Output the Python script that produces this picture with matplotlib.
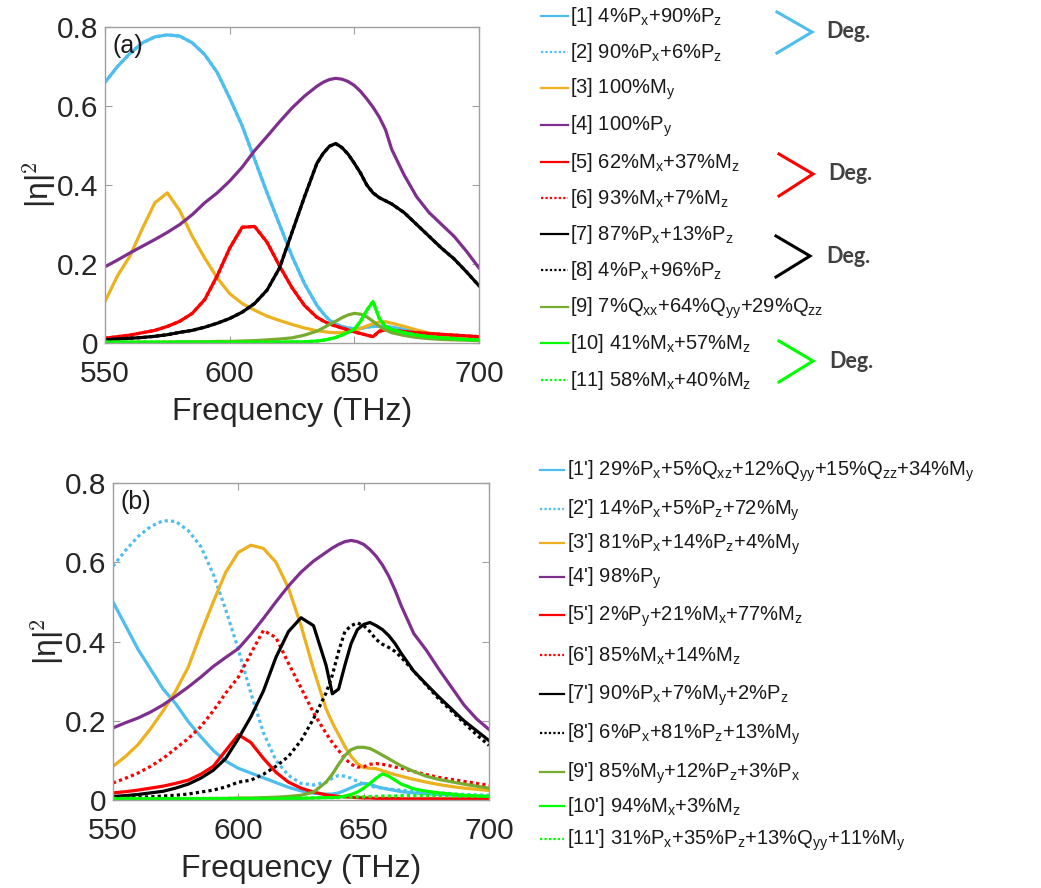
import re
import matplotlib
matplotlib.use('Agg')
import matplotlib.pyplot as plt

plt.rcParams['font.family'] = ['Liberation Sans', 'DejaVu Sans']
plt.rcParams['mathtext.default'] = 'regular'

# frequency grid (THz), denser around the sharp features
freq = [550, 555, 560, 565, 570, 575, 580, 585, 590, 595, 600, 605, 610, 615, 620, 625,
        630, 635, 637.5, 640, 642.5, 645, 647.5, 650, 652.5, 655, 657.5, 660, 662.5, 665,
        670, 675, 680, 685, 690, 695, 700]

# ---- panel (a) ----
a1 = [0.66, 0.70, 0.733, 0.76, 0.775, 0.78, 0.777, 0.76, 0.73, 0.685, 0.62, 0.55, 0.465, 0.38, 0.30, 0.22,
      0.15, 0.095, 0.075, 0.058, 0.048, 0.042, 0.038, 0.036, 0.037, 0.04, 0.042, 0.043, 0.042, 0.04,
      0.034, 0.028, 0.023, 0.019, 0.016, 0.013, 0.011]
a3 = [0.105, 0.17, 0.22, 0.29, 0.355, 0.38, 0.335, 0.27, 0.215, 0.165, 0.125, 0.1, 0.083, 0.068, 0.057, 0.047,
      0.038, 0.031, 0.029, 0.027, 0.026, 0.026, 0.028, 0.032, 0.037, 0.043, 0.049, 0.053, 0.054, 0.05,
      0.042, 0.033, 0.025, 0.02, 0.016, 0.013, 0.011]
a4 = [0.193, 0.21, 0.228, 0.245, 0.262, 0.28, 0.30, 0.325, 0.355, 0.38, 0.41, 0.445, 0.487, 0.523, 0.56, 0.595,
      0.625, 0.65, 0.66, 0.667, 0.67, 0.668, 0.662, 0.652, 0.637, 0.618, 0.597, 0.572, 0.54, 0.49,
      0.425, 0.37, 0.33, 0.30, 0.27, 0.232, 0.19]
a5 = [0.012, 0.016, 0.02, 0.026, 0.032, 0.042, 0.055, 0.075, 0.11, 0.17, 0.24, 0.293, 0.295, 0.255, 0.195, 0.14,
      0.095, 0.065, 0.056, 0.048, 0.043, 0.038, 0.033, 0.028, 0.024, 0.02, 0.016, 0.03, 0.033, 0.032,
      0.029, 0.026, 0.024, 0.022, 0.02, 0.018, 0.016]
a7 = [0.008, 0.01, 0.012, 0.014, 0.017, 0.021, 0.027, 0.032, 0.04, 0.05, 0.062, 0.078, 0.1, 0.134, 0.19, 0.28,
      0.37, 0.455, 0.48, 0.498, 0.505, 0.495, 0.478, 0.455, 0.43, 0.4, 0.38, 0.368, 0.36, 0.352,
      0.33, 0.3, 0.27, 0.24, 0.213, 0.18, 0.145]
a9 = [0.002, 0.002, 0.002, 0.002, 0.002, 0.002, 0.003, 0.003, 0.003, 0.004, 0.004, 0.005, 0.006, 0.008, 0.01, 0.013,
      0.02, 0.03, 0.038, 0.047, 0.055, 0.064, 0.071, 0.075, 0.073, 0.066, 0.055, 0.042, 0.033, 0.026,
      0.019, 0.014, 0.011, 0.009, 0.008, 0.007, 0.006]
a10 = [0.002, 0.002, 0.002, 0.002, 0.002, 0.002, 0.002, 0.002, 0.002, 0.002, 0.002, 0.002, 0.002, 0.002, 0.002, 0.003,
       0.003, 0.005, 0.007, 0.01, 0.014, 0.02, 0.027, 0.035, 0.055, 0.083, 0.105, 0.062, 0.042, 0.034,
       0.026, 0.02, 0.016, 0.013, 0.011, 0.009, 0.008]
# degenerate partners coincide with [1], [5], [7], [10]
a2, a6, a8, a11 = a1, a5, a7, a10

# ---- panel (b) ----
b1 = [0.5, 0.44, 0.38, 0.33, 0.28, 0.243, 0.198, 0.16, 0.125, 0.098, 0.08, 0.068, 0.056, 0.044, 0.032, 0.023,
      0.017, 0.015, 0.015, 0.018, 0.024, 0.031, 0.038, 0.042, 0.04, 0.034, 0.03, 0.027, 0.024, 0.021,
      0.018, 0.016, 0.014, 0.012, 0.011, 0.01, 0.009]
b2 = [0.59, 0.63, 0.665, 0.69, 0.705, 0.703, 0.68, 0.64, 0.57, 0.48, 0.38, 0.27, 0.17, 0.1, 0.062, 0.042,
      0.038, 0.045, 0.055, 0.062, 0.06, 0.055, 0.047, 0.04, 0.035, 0.032, 0.03, 0.028, 0.026, 0.025,
      0.022, 0.02, 0.018, 0.016, 0.014, 0.013, 0.012]
b3 = [0.085, 0.11, 0.14, 0.18, 0.225, 0.275, 0.335, 0.42, 0.5, 0.575, 0.625, 0.643, 0.635, 0.6, 0.535, 0.44,
      0.33, 0.23, 0.195, 0.165, 0.135, 0.11, 0.092, 0.082, 0.08, 0.079, 0.074, 0.069, 0.064, 0.06,
      0.052, 0.045, 0.039, 0.034, 0.03, 0.027, 0.024]
b4 = [0.182, 0.195, 0.207, 0.222, 0.24, 0.262, 0.285, 0.31, 0.337, 0.36, 0.382, 0.418, 0.458, 0.5, 0.54, 0.575,
      0.603, 0.625, 0.636, 0.645, 0.652, 0.655, 0.652, 0.645, 0.632, 0.615, 0.593, 0.565, 0.53, 0.49,
      0.42, 0.378, 0.33, 0.285, 0.24, 0.205, 0.178]
b5 = [0.018, 0.021, 0.025, 0.03, 0.035, 0.042, 0.05, 0.065, 0.085, 0.125, 0.165, 0.145, 0.105, 0.07, 0.045, 0.03,
      0.02, 0.013, 0.011, 0.009, 0.008, 0.007, 0.006, 0.005, 0.005, 0.004, 0.004, 0.004, 0.004, 0.003,
      0.003, 0.003, 0.003, 0.003, 0.003, 0.003, 0.003]
b6 = [0.043, 0.055, 0.068, 0.085, 0.105, 0.13, 0.155, 0.185, 0.225, 0.27, 0.31, 0.37, 0.428, 0.41, 0.345, 0.283,
      0.22, 0.168, 0.145, 0.125, 0.105, 0.09, 0.083, 0.084, 0.09, 0.092, 0.09, 0.087, 0.083, 0.08,
      0.072, 0.064, 0.057, 0.052, 0.047, 0.042, 0.037]
b7 = [0.009, 0.011, 0.014, 0.018, 0.022, 0.03, 0.04, 0.055, 0.075, 0.105, 0.155, 0.21, 0.275, 0.36, 0.425, 0.46,
      0.44, 0.34, 0.268, 0.28, 0.34, 0.395, 0.43, 0.443, 0.448, 0.44, 0.43, 0.415, 0.395, 0.37,
      0.325, 0.292, 0.26, 0.23, 0.2, 0.175, 0.15]
b8 = [0.005, 0.006, 0.007, 0.008, 0.01, 0.012, 0.015, 0.02, 0.025, 0.033, 0.045, 0.05, 0.065, 0.085, 0.11, 0.15,
      0.205, 0.27, 0.315, 0.375, 0.425, 0.44, 0.447, 0.44, 0.425, 0.405, 0.393, 0.385, 0.375, 0.36,
      0.325, 0.29, 0.255, 0.225, 0.195, 0.165, 0.138]
b9 = [0.002, 0.002, 0.002, 0.002, 0.002, 0.003, 0.003, 0.003, 0.004, 0.004, 0.005, 0.005, 0.006, 0.007, 0.009, 0.012,
      0.02, 0.045, 0.065, 0.09, 0.112, 0.127, 0.133, 0.133, 0.13, 0.122, 0.113, 0.104, 0.095, 0.086,
      0.072, 0.06, 0.052, 0.046, 0.04, 0.035, 0.03]
b10 = [0.003, 0.003, 0.003, 0.003, 0.003, 0.003, 0.003, 0.003, 0.003, 0.003, 0.003, 0.003, 0.003, 0.003, 0.004, 0.004,
       0.005, 0.006, 0.006, 0.007, 0.01, 0.014, 0.02, 0.03, 0.042, 0.055, 0.066, 0.06, 0.05, 0.04,
       0.028, 0.022, 0.018, 0.015, 0.012, 0.01, 0.009]
b11 = [0.004, 0.004, 0.004, 0.004, 0.004, 0.004, 0.004, 0.004, 0.004, 0.004, 0.004, 0.004, 0.004, 0.004, 0.004, 0.005,
       0.005, 0.006, 0.006, 0.006, 0.007, 0.007, 0.008, 0.008, 0.009, 0.009, 0.01, 0.01, 0.01, 0.011,
       0.011, 0.011, 0.011, 0.01, 0.01, 0.01, 0.009]

labels_a = ['[1] 4%P_x+90%P_z', '[2] 90%P_x+6%P_z', '[3] 100%M_y', '[4] 100%P_y',
            '[5] 62%M_x+37%M_z', '[6] 93%M_x+7%M_z', '[7] 87%P_x+13%P_z', '[8] 4%P_x+96%P_z',
            '[9] 7%Q_xx+64%Q_yy+29%Q_zz', '[10] 41%M_x+57%M_z', '[11] 58%M_x+40%M_z']
labels_b = ["[1'] 29%P_x+5%Q_xz+12%Q_yy+15%Q_zz+34%M_y", "[2'] 14%P_x+5%P_z+72%M_y",
            "[3'] 81%P_x+14%P_z+4%M_y", "[4'] 98%P_y", "[5'] 2%P_y+21%M_x+77%M_z",
            "[6'] 85%M_x+14%M_z", "[7'] 90%P_x+7%M_y+2%P_z", "[8'] 6%P_x+81%P_z+13%M_y",
            "[9'] 85%M_y+12%P_z+3%P_x", "[10'] 94%M_x+3%M_z", "[11'] 31%P_x+35%P_z+13%Q_yy+11%M_y"]

blue, orange, purple = '#4DBEEE', '#EDB120', '#7E2F8E'
red, black, olive, green = '#FF0000', '#000000', '#77AC30', '#00FF00'
colors = [blue, blue, orange, purple, red, red, black, black, olive, green, green]
dotted = [False, True, False, False, False, True, False, True, False, False, True]
DOT = (0, (1, 1))

W, H = 1041, 888
fig = plt.figure(figsize=(W / 100, H / 100), dpi=100)


def px_axes(l, t, r, b):
    return fig.add_axes([l / W, 1 - b / H, (r - l) / W, (b - t) / H])


def style(ax, tag):
    ax.set_xlim(550, 700)
    ax.set_ylim(0, 0.8)
    ax.set_xticks([550, 600, 650, 700])
    ax.set_yticks([0, 0.2, 0.4, 0.6, 0.8])
    ax.set_yticklabels(['0', '0.2', '0.4', '0.6', '0.8'])
    ax.tick_params(direction='in', length=5, top=True, right=True, color='#a0a0a0',
                   labelsize=21.5, labelcolor='#262626')
    ax.tick_params(axis='x', pad=12)
    ax.tick_params(axis='y', pad=5)
    for s in ax.spines.values():
        s.set_color('#a0a0a0')
        s.set_linewidth(1)
    ax.set_xlabel('Frequency (THz)', fontsize=23, color='#262626', labelpad=7)
    ax.set_ylabel(r'|$\eta$|$^\mathsf{2}$', fontsize=23, color='#262626',
                  math_fontfamily='cm', labelpad=-2)
    ax.text(0.02, 0.94, tag, transform=ax.transAxes, fontsize=18, va='center', color='#1a1a1a')


def mt(s):
    return re.sub(r'([A-Z])_(\w+)', r'$\1_{\2}$', s)


ax_a = px_axes(105, 27, 479, 343)
for y, c, d in zip([a1, a2, a3, a4, a5, a6, a7, a8, a9, a10, a11], colors, dotted):
    ax_a.plot(freq, y, color=c, lw=2.3, ls=DOT if d else '-', solid_joinstyle='round')
style(ax_a, '(a)')

ax_b = px_axes(113, 483, 489, 800)
for y, c, d in zip([b1, b2, b3, b4, b5, b6, b7, b8, b9, b10, b11], colors, dotted):
    ax_b.plot(freq, y, color=c, lw=2.3, ls=DOT if d else '-', solid_joinstyle='round')
style(ax_b, '(b)')

# legend area drawn in pixel coordinates
lg = fig.add_axes([520 / W, 0, (W - 520) / W, 1])
lg.set_xlim(520, W)
lg.set_ylim(H, 0)
lg.axis('off')

rows_a = [16, 52, 88, 125, 162, 198, 234, 270, 307, 343, 380]
rows_b = [470, 509, 543, 577, 615, 655, 694, 733, 772, 806, 839]
for rows, labels, x0, x1, xt in [(rows_a, labels_a, 541, 568, 570), (rows_b, labels_b, 540, 564, 567)]:
    for y, lab, c, d in zip(rows, labels, colors, dotted):
        lg.plot([x0, x1], [y, y], color=c, lw=1.6, ls=DOT if d else '-')
        lg.text(xt, y + 6, mt(lab), fontsize=14.5, va='baseline', ha='left', color='#1a1a1a')

# "Deg." brackets for degenerate pairs
brackets = [(blue, 777, 812, 12, 32, 53, 826), (red, 779, 813, 154, 174, 196, 828),
            (black, 776, 810, 236, 256, 277, 826), (green, 779, 813, 341, 361, 382, 829)]
for c, xl, xr, yt, ym, yb, xd in brackets:
    lg.plot([xl, xr, xl], [yt, ym, yb], color=c, lw=2.2, solid_joinstyle='miter')
    lg.text(xd, ym, 'Deg.', fontsize=15.5, family='Lato', fontweight='bold', color='#404040',
            va='center', ha='left')

fig.savefig('out.png', dpi=100)
